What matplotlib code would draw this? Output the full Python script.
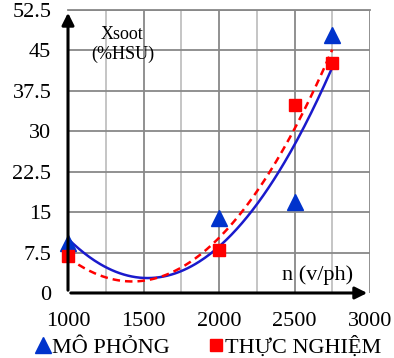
import numpy as np
import matplotlib.pyplot as plt
from matplotlib.lines import Line2D

# data
speed = [1000, 2000, 2500, 2750]
mo_phong = [9.3, 13.9, 16.9, 47.9]
thuc_nghiem = [6.9, 8.0, 34.9, 42.6]

y_ticks = [0, 7.5, 15, 22.5, 30, 37.5, 45, 52.5]
x_ticks = [1000, 1500, 2000, 2500, 3000]

plt.rcParams['font.family'] = ['Liberation Serif', 'DejaVu Serif']

fig = plt.figure(figsize=(3.94, 3.58), dpi=100)
ax = fig.add_axes([0.1726, 0.1816, 0.7665, 0.7905])

# grid
for x in np.arange(1250, 3001, 250):
    c = '#888888' if x % 500 == 0 else '#c0c0c0'
    ax.axvline(x, color=c, lw=1.3, zorder=0)
for y in y_ticks[1:]:
    ax.axhline(y, color='#888888', lw=1.3, zorder=0)

# 2nd order trend lines
xs = np.linspace(speed[0], speed[-1], 200)
p_mp = np.polyfit(speed, mo_phong, 2)
p_tn = np.polyfit(speed, thuc_nghiem, 2)
ax.plot(xs, np.polyval(p_mp, xs), color='#1a1acc', lw=1.8, zorder=2)
ax.plot(xs, np.polyval(p_tn, xs), color='#ff0000', lw=1.8, ls=(0, (3, 2)), zorder=2)

ax.plot(speed, mo_phong, ls='none', marker='^', ms=11, color='#0033cc', zorder=3, clip_on=False)
ax.plot(speed, thuc_nghiem, ls='none', marker='s', ms=9, color='#ff0000', zorder=3, clip_on=False)

ax.set_xlim(1000, 3000)
ax.set_ylim(0, 52.5)
ax.set_xticks(x_ticks)
ax.set_yticks(y_ticks)
ax.set_yticklabels(['0', '7.5', '15', '22.5', '30', '37.5', '45', '52.5'])
ax.tick_params(length=0, labelsize=16)
ax.tick_params(axis='x', pad=14)
ax.tick_params(axis='y', pad=12)

for s in ['top', 'right', 'left', 'bottom']:
    ax.spines[s].set_visible(False)

# axes with arrows
ax.annotate('', xy=(1000, 52.5), xytext=(1000, 0), xycoords='data',
            arrowprops=dict(arrowstyle='-|>', color='black', lw=2.2, mutation_scale=18),
            annotation_clip=False, zorder=4)
ax.annotate('', xy=(3000, 0), xytext=(1000, 0), xycoords='data',
            arrowprops=dict(arrowstyle='-|>', color='black', lw=2.2, mutation_scale=18),
            annotation_clip=False, zorder=4)
# top border
ax.plot([1000, 3000], [52.5, 52.5], color='#888888', lw=1.3, zorder=0, clip_on=False)

ax.text(1360, 48, 'Xsoot', fontsize=13, ha='center', va='center')
ax.text(1360, 44.2, '(%HSU)', fontsize=13, ha='center', va='center')
ax.text(2650, 3.4, 'n (v/ph)', fontsize=16, ha='center', va='center')

handles = [
    Line2D([], [], ls='none', marker='^', ms=11, color='#0033cc'),
    Line2D([], [], ls='none', marker='s', ms=9, color='#ff0000'),
]
fig.legend(handles, ['MÔ PHỎNG', 'THỰC NGHIỆM'], loc='lower center',
           bbox_to_anchor=(0.53, -0.055), ncol=2, frameon=False, fontsize=16,
           handlelength=0.6, handletextpad=0.1, columnspacing=1.8)

fig.savefig('out.png', dpi=100)
